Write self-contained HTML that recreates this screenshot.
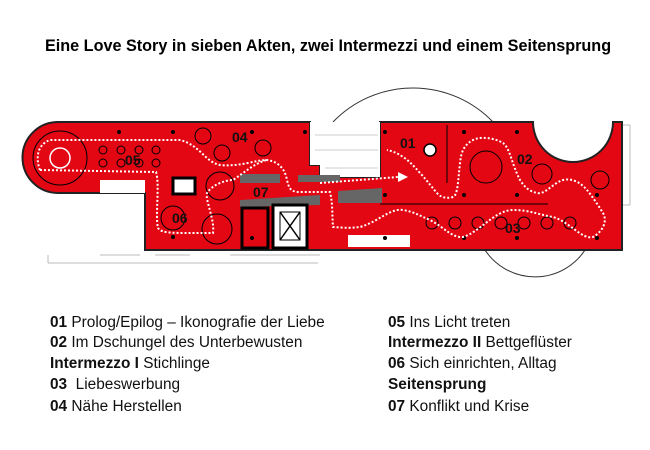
<!DOCTYPE html>
<html><head><meta charset="utf-8"><style>
body{margin:0;background:#fff;width:650px;height:450px;overflow:hidden;position:relative;font-family:"Liberation Sans",Arial,sans-serif;}
.t{position:absolute;left:45px;top:37px;font-weight:bold;font-size:16.2px;color:#000;white-space:nowrap;}
.l{position:absolute;font-size:15.4px;color:#111;white-space:nowrap;}
.l b{font-weight:bold;}
svg{position:absolute;left:0;top:0;}
</style></head><body>
<div class="t">Eine Love Story in sieben Akten, zwei Intermezzi und einem Seitensprung</div>
<svg width="650" height="450" viewBox="0 0 650 450">
<path d="M333,122 A111,111 0 0 1 493,122" fill="none" stroke="#333" stroke-width="1"/>
<path d="M482,245 A60,60 0 0 0 588,245" fill="none" stroke="#333" stroke-width="1"/>
<g stroke="#bbb" stroke-width="1" fill="none">
<line x1="48" y1="263" x2="318" y2="263"/><line x1="48" y1="255" x2="48" y2="263"/>
<line x1="100" y1="255" x2="140" y2="255"/><line x1="155" y1="255" x2="190" y2="255"/>
<line x1="230" y1="255" x2="320" y2="255"/>
<line x1="622" y1="125" x2="630" y2="125"/><line x1="630" y1="125" x2="630" y2="205"/><line x1="622" y1="205" x2="630" y2="205"/>
</g>
<path d="M58,122 L310,122 L310,165 L320,165 L320,177 L380,177 L380,122 L533,122 A40,40 0 0 0 613,122 L622,122 L622,245 L622,250 L145,250 L145,193 L58,193 A35.5,35.5 0 0 1 58,122 Z" fill="#e30613" stroke="#222" stroke-width="2"/>
<rect x="310" y="122" width="70" height="43" fill="#fff"/>
<rect x="320" y="160" width="60" height="17" fill="#fff"/>
<g stroke="#ccc" stroke-width="1"><line x1="315" y1="135" x2="378" y2="135"/><line x1="315" y1="150" x2="378" y2="150"/><line x1="325" y1="168" x2="378" y2="168"/></g>
<rect x="100" y="180" width="45" height="13" fill="#fff"/>
<rect x="348" y="235" width="62" height="12" fill="#fff"/>
<g fill="#666">
<rect x="240" y="174" width="40" height="9"/><rect x="298" y="175" width="42" height="7"/>
<polygon points="240,200 320,195 320,205 240,207"/>
<polygon points="338,191 382,188 382,203 338,203"/>
</g>
<rect x="173" y="178" width="22" height="16" fill="#fff" stroke="#000" stroke-width="3"/>
<rect x="242" y="208" width="26" height="40" fill="#e30613" stroke="#000" stroke-width="3"/>
<rect x="273" y="205" width="34" height="43" fill="#fff" stroke="#000" stroke-width="3"/>
<path d="M280,212 L300,240 M300,212 L280,240" stroke="#000" stroke-width="1.5"/>
<rect x="280" y="212" width="20" height="28" fill="none" stroke="#000" stroke-width="1"/>
<g fill="none" stroke="#000" stroke-width="1">
<circle cx="60" cy="158" r="27"/><circle cx="60" cy="158" r="10" stroke="#fff" stroke-width="1.5"/>
<circle cx="103" cy="150" r="4"/><circle cx="121" cy="150" r="4"/><circle cx="139" cy="150" r="4"/><circle cx="156" cy="150" r="4"/>
<circle cx="103" cy="163" r="4"/><circle cx="121" cy="163" r="4"/><circle cx="139" cy="163" r="4"/><circle cx="156" cy="163" r="4"/>
<circle cx="203" cy="136" r="8"/><circle cx="222" cy="153" r="8"/><circle cx="263" cy="148" r="8"/>
<circle cx="220" cy="186" r="14"/><circle cx="173" cy="218" r="12"/><circle cx="217" cy="229" r="15"/>
<circle cx="486" cy="167" r="16"/><circle cx="542" cy="174" r="10"/><circle cx="600" cy="180" r="9"/>
<circle cx="432" cy="223" r="6"/><circle cx="455" cy="223" r="6"/><circle cx="478" cy="223" r="6"/><circle cx="501" cy="223" r="6"/><circle cx="524" cy="223" r="6"/><circle cx="547" cy="223" r="6"/><circle cx="570" cy="223" r="6"/>
<line x1="447" y1="125" x2="447" y2="183"/><line x1="380" y1="204" x2="548" y2="204"/>
</g>
<circle cx="430" cy="150" r="6" fill="#fff" stroke="#000" stroke-width="1.5"/>
<g fill="#000">
<circle cx="119" cy="132" r="2"/><circle cx="173" cy="132" r="2"/><circle cx="252" cy="132" r="2"/><circle cx="305" cy="132" r="2"/>
<circle cx="385" cy="132" r="2"/><circle cx="464" cy="132" r="2"/><circle cx="517" cy="132" r="2"/>
<circle cx="385" cy="195" r="2"/><circle cx="464" cy="195" r="2"/><circle cx="517" cy="195" r="2"/><circle cx="597" cy="195" r="2"/>
<circle cx="173" cy="237" r="2"/><circle cx="252" cy="238" r="2"/><circle cx="385" cy="238" r="2"/><circle cx="464" cy="238" r="2"/><circle cx="517" cy="238" r="2"/><circle cx="597" cy="238" r="2"/>
</g>
<g fill="none" stroke="#fff" stroke-width="2" stroke-dasharray="2,2">
<path d="M40,170 C36,160 36,145 50,140 L180,140 C200,145 205,162 220,165 C240,167 255,160 267,160 C280,162 285,170 287,180 C289,188 290,192 300,192 L330,192 C333,205 332,215 333,227 C345,228 352,228 360,227 C378,222 390,208 403,210 C415,212 420,216 430,220 C445,228 452,238 463,237 C480,232 495,210 513,210 C530,210 540,215 553,217 C570,222 582,240 593,237 C602,232 608,222 603,213 C598,205 592,196 587,190 C580,182 572,178 563,180 C553,183 545,195 537,193 C528,191 524,186 520,180 C512,165 510,148 503,143 C495,138 480,136 473,140 C462,146 461,155 460,163 C458,180 458,195 453,197 C446,199 440,197 437,193 C430,185 425,178 420,173 C413,165 408,160 403,157 C396,152 391,151 387,150"/>
<path d="M40,170 L156,172 C160,185 155,215 158,228 C162,234 175,233 213,233 C215,220 205,200 207,193 C212,185 225,180 233,180 C245,172 255,163 267,160"/>
<path d="M320,183 L398,177"/>
</g>
<polygon points="398,172 408,177 398,182" fill="#fff"/>
<g font-family="Liberation Sans,Arial,sans-serif" font-weight="bold" font-size="14" fill="#111">
<text x="125" y="165">05</text><text x="232" y="142">04</text><text x="400" y="148">01</text><text x="517" y="164">02</text>
<text x="253" y="197">07</text><text x="172" y="223">06</text><text x="505" y="233">03</text>
</g>
</svg>
<div class="l" style="left:50px;top:314px"><b>01</b> Prolog/Epilog – Ikonografie der Liebe</div>
<div class="l" style="left:50px;top:334px"><b>02</b> Im Dschungel des Unterbewusten</div>
<div class="l" style="left:50px;top:355px"><b>Intermezzo I</b> Stichlinge</div>
<div class="l" style="left:50px;top:376px"><b>03</b>&nbsp; Liebeswerbung</div>
<div class="l" style="left:50px;top:398px"><b>04</b> Nähe Herstellen</div>
<div class="l" style="left:388px;top:314px"><b>05</b> Ins Licht treten</div>
<div class="l" style="left:388px;top:334px"><b>Intermezzo II</b> Bettgeflüster</div>
<div class="l" style="left:388px;top:355px"><b>06</b> Sich einrichten, Alltag</div>
<div class="l" style="left:388px;top:376px"><b>Seitensprung</b></div>
<div class="l" style="left:388px;top:398px"><b>07</b> Konflikt und Krise</div>
</body></html>
